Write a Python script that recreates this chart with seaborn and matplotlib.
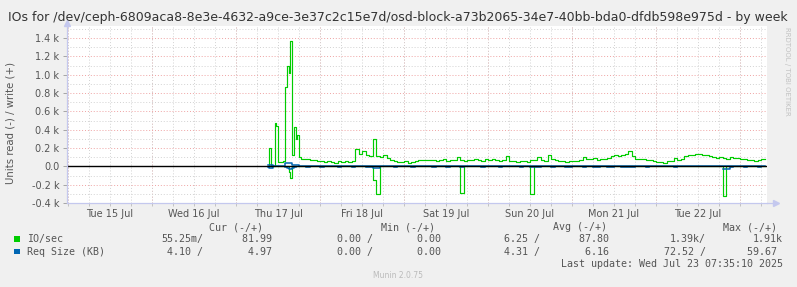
import numpy as np
import pandas as pd
import matplotlib
matplotlib.use("Agg")
import matplotlib.pyplot as plt
import seaborn as sns
from matplotlib.ticker import MultipleLocator, FuncFormatter

# ---------------- data (hours since Tue 15 Jul 00:00) ----------------
title = ("IOs for /dev/ceph-6809aca8-8e3e-4632-a9ce-3e37c2c15e7d/"
         "osd-block-a73b2065-34e7-40bb-bda0-dfdb598e975d - by week")
day_labels = ["Tue 15 Jul", "Wed 16 Jul", "Thu 17 Jul", "Fri 18 Jul",
              "Sat 19 Jul", "Sun 20 Jul", "Mon 21 Jul", "Tue 22 Jul"]

# half-hour samples h57.0 .. h67.5 (burst on Thu 17)
write_detail = [5, 200, 5, 5, 470, 440, 45, 50, 50, 55, 865, 1100,
                1020, 1364, 120, 425, 300, 338, 105, 85, 75, 80]
read_detail = [0, 0, 0, 0, 0, 0, 0, 0, 0, 0, 0, 0,
               -60, -130, 0, 0, 0, 0, 0, 0, 0, 0]
reqw_detail = [10, 15, 12, 6, 5, 5, 5, 5, 5, 5, 36, 36,
               36, 36, 10, 15, 15, 10, 6, 5, 5, 5]
reqr_detail = [-8, -15, -15, -8, None, None, None, None, None, None, -10, -20,
               -30, -30, -15, -10, -10, None, None, None, None, None]

# hourly samples h68 .. h199
write_hourly = [
    75, 65, 70, 60, 55, 45, 60, 50, 40, 55, 45, 60,
    50, 55, 190, 140, 165, 120, 110, 300, 110, 100, 125, 95,
    70, 55, 50, 45, 55, 40, 50, 60, 65, 70, 70, 65,
    70, 60, 65, 75, 60, 65, 70, 105, 65, 60, 70, 65,
    80, 70, 60, 75, 65, 85, 70, 60, 70, 115, 60, 55,
    50, 60, 55, 50, 70, 65, 105, 70, 60, 120, 75, 65,
    55, 60, 50, 55, 60, 55, 70, 100, 80, 75, 90, 70,
    85, 75, 90, 110, 120, 115, 125, 140, 167, 110, 80, 80,
    75, 70, 65, 55, 45, 50, 40, 55, 60, 90, 65, 85,
    110, 120, 125, 130, 138, 125, 120, 115, 100, 95, 100, 90,
    85, 100, 90, 95, 80, 75, 70, 65, 55, 70, 80, 75,
]
read_hourly = [
    0, 0, 0, 0, 0, 0, 0, 0, 0, 0, 0, 0,
    0, 0, 0, 0, 0, 0, 0, -146, -305, 0, 0, 0,
    0, 0, 0, 0, 0, 0, 0, 0, 0, 0, 0, 0,
    0, 0, 0, 0, 0, 0, 0, 0, -287, 0, 0, 0,
    0, 0, 0, 0, 0, 0, 0, 0, 0, 0, 0, 0,
    0, 0, 0, 0, -298, 0, 0, 0, 0, 0, 0, 0,
    0, 0, 0, 0, 0, 0, 0, 0, 0, 0, 0, 0,
    0, 0, 0, 0, 0, 0, 0, 0, 0, 0, 0, 0,
    0, 0, 0, 0, 0, 0, 0, 0, 0, 0, 0, 0,
    0, 0, 0, 0, 0, 0, 0, 0, 0, 0, 0, -327,
    0, 0, 0, 0, 0, 0, 0, 0, 0, 0, 0, 0,
]
reqw_hourly = [
    5, 6, 5, 5, 4, 5, 6, 5, 5, 4, 5, 5,
    5, 6, 8, 6, 5, 5, 6, 8, 6, 5, 5, 5,
    5, 4, 5, 5, 6, 5, 5, 4, 5, 5, 6, 5,
    5, 5, 4, 5, 5, 6, 5, 5, 6, 5, 5, 4,
    5, 5, 6, 5, 5, 5, 4, 5, 5, 6, 5, 5,
    4, 5, 5, 5, 6, 5, 5, 5, 4, 6, 5, 5,
    5, 5, 4, 5, 5, 5, 6, 5, 5, 5, 6, 5,
    5, 5, 6, 6, 6, 5, 6, 6, 7, 6, 5, 5,
    5, 5, 4, 5, 4, 5, 4, 5, 5, 6, 5, 5,
    6, 6, 6, 6, 6, 6, 6, 6, 5, 5, 5, 5,
    5, 5, 5, 5, 5, 5, 5, 5, 4, 5, 5, 5,
]
reqr_hourly = [
    -6, -6, None, None, -5, -5, None, None, None, -6, -6, None,
    None, -8, -8, None, None, -10, -10, -15, -15, -10, None, None,
    None, -5, -5, None, None, None, -6, -6, None, None, None, None,
    -5, -5, None, None, -6, -6, None, None, -10, -10, None, None,
    None, None, -5, -5, None, None, None, -6, -6, None, None, None,
    None, -7, -7, None, -10, -10, -6, -6, None, None, -5, -5,
    None, None, -6, -6, -6, None, None, -5, -5, None, -7, -7,
    -7, None, -6, -6, -6, None, -5, -5, -8, -8, -6, None,
    None, -5, -5, None, None, None, None, None, None, -6, -6, None,
    None, None, None, None, None, None, None, None, None, None, None, -25,
    -25, -8, -8, None, None, -6, -6, None, None, -5, -5, None,
]

legend_rows = [
    ("IO/sec", "#00CC00", ["55.25m/", "81.99 ", "0.00 /", "0.00 ",
                           "6.25 /", "87.80 ", "1.39k/", "1.91k"]),
    ("Req Size (KB)", "#0066B3", ["4.10 /", "4.97 ", "0.00 /", "0.00 ",
                                  "4.31 /", "6.16 ", "72.52 /", "59.67 "]),
]
headers = ["Cur (-/+)", "Min (-/+)", "Avg (-/+)", "Max (-/+)"]
last_update = "Last update: Wed Jul 23 07:35:10 2025"
version = "Munin 2.0.75"

# ---------------- build frames ----------------
t = np.concatenate([np.arange(57.0, 68.0, 0.5), np.arange(68.0, 200.0, 1.0)])


def series(detail, hourly):
    v = np.array([np.nan if x is None else x for x in list(detail) + list(hourly)], float)
    df = pd.DataFrame({"t": t, "v": v})
    df["seg"] = df["v"].isna().cumsum()
    return df.dropna()


io_w = series(write_detail, write_hourly)
io_r = series(read_detail, read_hourly)
rq_w = series(reqw_detail, reqw_hourly)
rq_r = series(reqr_detail, reqr_hourly)

# ---------------- figure ----------------
W, H = 797, 287
BG = "#F0F0F0"
AXC = "#C4C8EE"
TXT = "#555555"
fig = plt.figure(figsize=(W / 100, H / 100), dpi=100, facecolor=BG)
L, R, T, B = 67, 767, 26, 203
ax = fig.add_axes([L / W, 1 - B / H, (R - L) / W, (B - T) / H])
ax.set_facecolor("white")

GREEN, BLUE = "#00CC00", "#0066B3"
for df, col, lw in [(io_w, GREEN, 0.85), (io_r, GREEN, 0.85),
                    (rq_w, BLUE, 1.1), (rq_r, BLUE, 1.1)]:
    sns.lineplot(data=df, x="t", y="v", units="seg", estimator=None, ax=ax,
                 color=col, lw=lw, drawstyle="steps-post", legend=False, zorder=3)
ax.axhline(0, color="black", lw=1.0, zorder=4)

x0 = -0.29
x1 = 199.71
ax.set_xlim(x0, x1)
ax.set_ylim(-400, 1531)

# grid
ax.yaxis.set_major_locator(MultipleLocator(200))
ax.yaxis.set_minor_locator(MultipleLocator(100))
ax.xaxis.set_major_locator(MultipleLocator(24, offset=12))
ax.xaxis.set_minor_locator(MultipleLocator(6))
dot = (0, (1, 2))
ax.grid(which="minor", axis="both", color="#D2D2D2", ls=dot, lw=0.7, zorder=0)
ax.grid(which="major", axis="x", color="#D2D2D2", ls=dot, lw=0.7, zorder=0)
ax.grid(which="major", axis="y", color="#EFA3A3", ls=dot, lw=0.7, zorder=1)
for d in range(0, 9):
    ax.axvline(24 * d, color="#EFA3A3", ls=dot, lw=0.7, zorder=1)

ax.yaxis.set_major_formatter(FuncFormatter(
    lambda v, p: "0.0" if abs(v) < 1e-9 else f"{v / 1000:.1f} k"))
ax.set_xticks([12 + 24 * i for i in range(len(day_labels))])
ax.set_xticklabels(day_labels)
ax.tick_params(axis="y", which="major", length=3, width=0.6, color="#999999",
               labelsize=7, labelcolor=TXT, pad=2.6)
ax.tick_params(axis="y", which="minor", length=0)
ax.tick_params(axis="x", which="both", length=2, width=0.6, color="#BBBBBB",
               labelsize=7, labelcolor=TXT, pad=2.2)
ax.set_xlabel("")
ax.set_ylabel("")

for s in ["top", "right"]:
    ax.spines[s].set_visible(False)
for s in ["left", "bottom"]:
    ax.spines[s].set_color(AXC)
    ax.spines[s].set_linewidth(0.9)
    ax.spines[s].set_zorder(5)

# axis arrows
ax.plot([1, 1 + 8 / 700], [0, 0], color=AXC, lw=0.9, transform=ax.transAxes, clip_on=False)
ax.plot([1 + 9 / 700], [0], marker=">", ms=4.5, color=AXC, mec=AXC,
        transform=ax.transAxes, clip_on=False)
ax.plot([0, 0], [1, 1 + 2 / 177], color=AXC, lw=0.9, transform=ax.transAxes, clip_on=False)
ax.plot([0], [1 + 3 / 177], marker="^", ms=4.5, color=AXC, mec=AXC,
        transform=ax.transAxes, clip_on=False)


def px(x, y):
    return x / W, 1 - y / H


fig.text(*px(397.5, 18), title, ha="center", va="center", fontsize=9.0, color="#333333")
fig.text(*px(11, 123), "Units read (-) / write (+)", rotation=90,
         ha="center", va="center", fontsize=7.3, color=TXT)
fig.text(*px(787, 27), "RRDTOOL / TOBI OETIKER", rotation=270,
         ha="center", va="top", fontsize=5, color="#C2C2C2")

MONO = "DejaVu Sans Mono"
FS = 7.2
header_left = [209, 381, 553, 723]
for hx, h in zip(header_left, headers):
    fig.text(*px(hx, 227.5), h, ha="left", va="center", family=MONO, fontsize=FS, color=TXT)

right_edges = [203, 278, 373, 447, 540, 615, 706, 783]
for (label, col, vals), yy in zip(legend_rows, [239.3, 251.7]):
    fig.patches.append(plt.Rectangle(px(14, yy + 2.6), 5.5 / W, 5.5 / H,
                                     transform=fig.transFigure, facecolor=col,
                                     edgecolor="none"))
    fig.text(*px(27, yy), label, ha="left", va="center", family=MONO, fontsize=FS, color=TXT)
    for rx, v in zip(right_edges, vals):
        fig.text(*px(rx, yy), v, ha="right", va="center", family=MONO, fontsize=FS, color=TXT)

fig.text(*px(783, 264), last_update, ha="right", va="center", family=MONO,
         fontsize=FS, color=TXT)
fig.text(*px(398, 275.7), version, ha="center", va="center", fontsize=5.5, color="#BBBBBB")

fig.savefig("out.png", dpi=100, facecolor=BG)
